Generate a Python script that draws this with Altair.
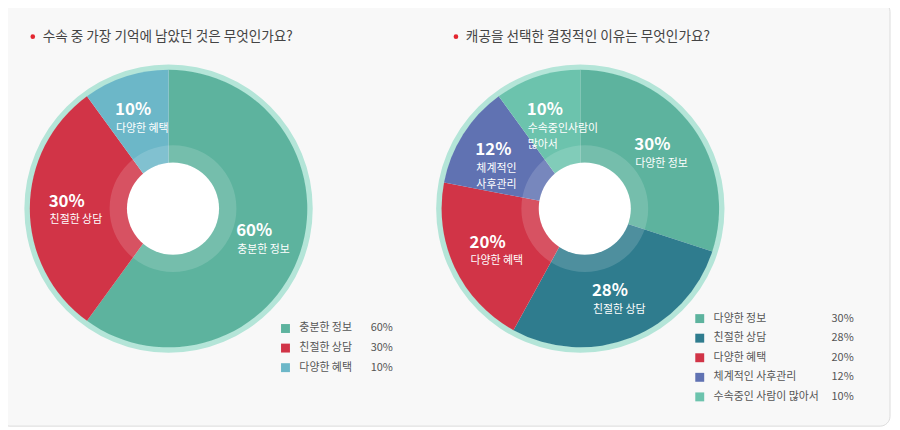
import altair as alt
import pandas as pd

FONT = "Noto Sans CJK KR"

# ---- data ----
left_title = "수속 중 가장 기억에 남았던 것은 무엇인가요?"
left_cats = ["충분한 정보", "친절한 상담", "다양한 혜택"]
left_values = [60, 30, 10]
left_labels = ["충분한 정보", "친절한 상담", "다양한 혜택"]
left_colors = ["#5db39e", "#d13447", "#6cb7c8"]

right_title = "캐공을 선택한 결정적인 이유는 무엇인가요?"
right_cats = ["다양한 정보", "친절한 상담", "다양한 혜택", "체계적인 사후관리", "수속중인 사람이 많아서"]
right_values = [30, 28, 20, 12, 10]
right_labels = ["다양한 정보", "친절한 상담", "다양한 혜택", "체계적인\n사후관리", "수속중인사람이\n많아서"]
right_colors = ["#5db39e", "#2f7c8e", "#d13447", "#6072b2", "#6cc3ad"]


def make_df(cats, values, labels, colors):
    return pd.DataFrame({
        "cat": cats,
        "value": values,
        "label": labels,
        "color": colors,
        "idx": list(range(len(cats))),
        "pct": [f"{v}%" for v in values],
    })


one = pd.DataFrame({"k": [0]})


def pie_layers(df, title, cx, cy, hole_dx, tx, ty, lx, ly0, ly1, vx):
    theta = alt.Theta("value:Q", stack=True)
    order = alt.Order("idx:Q", sort="ascending")
    color = alt.Color("color:N", scale=None)
    layers = []
    # outer pale ring
    layers.append(
        alt.Chart(one).mark_arc(innerRadius=139.5, outerRadius=145.5, theta=0, theta2=6.2832,
                                color="#b4e5d8")
        .encode(x=alt.value(cx), y=alt.value(cy))
    )
    # slices
    layers.append(
        alt.Chart(df).mark_arc(outerRadius=140, strokeWidth=0)
        .encode(theta=theta, order=order, color=color, x=alt.value(cx), y=alt.value(cy))
    )
    # translucent inner ring
    layers.append(
        alt.Chart(one).mark_arc(innerRadius=46.5, outerRadius=64, theta=0, theta2=6.2832,
                                color="white", opacity=0.15)
        .encode(x=alt.value(cx + hole_dx), y=alt.value(cy))
    )
    # white hole
    layers.append(
        alt.Chart(one).mark_arc(outerRadius=46.5, theta=0, theta2=6.2832, color="white")
        .encode(x=alt.value(cx + hole_dx), y=alt.value(cy))
    )
    # percent labels
    layers.append(
        alt.Chart(df).mark_text(radius=97, dx=-24, dy=-7, fontSize=17, fontWeight="bold",
                                color="white", font=FONT, baseline="middle", align="left")
        .encode(theta=theta, order=order, text="pct:N", x=alt.value(cx), y=alt.value(cy))
    )
    # name labels
    layers.append(
        alt.Chart(df).mark_text(radius=97, dx=-23, dy=6, fontSize=11, color="white", font=FONT,
                                baseline="top", align="left", lineBreak="\n", lineHeight=16)
        .encode(theta=theta, order=order, text="label:N", x=alt.value(cx), y=alt.value(cy))
    )
    # title bullet + title
    layers.append(
        alt.Chart(one).mark_circle(size=22, color="#e3262f", opacity=1)
        .encode(x=alt.value(tx), y=alt.value(ty))
    )
    layers.append(
        alt.Chart(one).mark_text(text=title, align="left", baseline="middle", fontSize=13.75,
                                 color="#444444", font=FONT)
        .encode(x=alt.value(tx + 10), y=alt.value(ty))
    )
    # legend
    ysc = alt.Y("cat:N", scale=alt.Scale(type="point", domain=list(df["cat"]), range=[ly0, ly1],
                                         padding=0), axis=None)
    layers.append(
        alt.Chart(df).mark_square(size=81, opacity=1)
        .encode(x=alt.value(lx), y=ysc, color=color)
    )
    layers.append(
        alt.Chart(df).mark_text(align="left", baseline="middle", fontSize=11, color="#555555", font=FONT)
        .encode(x=alt.value(lx + 14), y=ysc, text="cat:N")
    )
    layers.append(
        alt.Chart(df).mark_text(align="left", baseline="middle", fontSize=11, color="#555555", font=FONT)
        .encode(x=alt.value(vx), y=ysc, text="pct:N")
    )
    return layers


left_df = make_df(left_cats, left_values, left_labels, left_colors)
right_df = make_df(right_cats, right_values, right_labels, right_colors)

panel = alt.Chart(one).mark_rect(cornerRadius=10, fill="#f8f8f8", stroke="#dcdcdc", strokeWidth=1).encode(
    x=alt.value(-8), x2=alt.value(890), y=alt.value(-8), y2=alt.value(420)
)

layers = [panel]
layers += pie_layers(left_df, left_title, 162, 200.5, 4.5, 25, 27, 280, 321.5, 361, 366)
layers += pie_layers(right_df, right_title, 577.5, 200.5, 4.5, 452, 27, 698, 311.5, 390.5, 831)

chart = alt.layer(*layers).resolve_scale(y="independent").properties(
    width=892, height=422, padding=0, autosize="none", background="white"
).configure_view(stroke=None)

chart.save("out.html", embed_options={"renderer": "svg", "actions": False})
